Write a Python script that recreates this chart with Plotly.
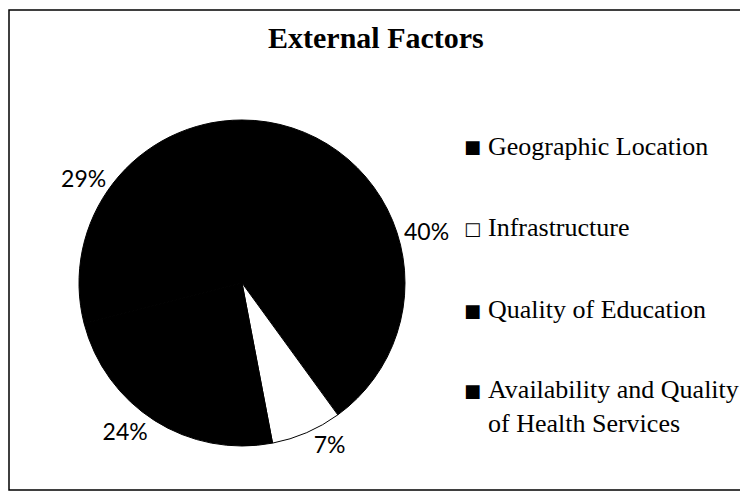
import plotly.graph_objects as go

# ---- data ----
categories = ["Geographic Location", "Infrastructure", "Quality of Education",
              "Availability and Quality of Health Services"]
values = [40, 7, 24, 29]
slice_colors = ["#000000", "#ffffff", "#000000", "#000000"]
legend_text = ["Geographic Location", "Infrastructure", "Quality of Education",
               "Availability and Quality<br>of Health Services"]
title_text = "External Factors"

# the html page body has an 8px margin; lay out in page pixels and shift
OFF = 8
W, H = 748 - OFF, 500 - OFF


def px_x(x):
    return (x - OFF) / W


def px_y(y):
    return 1 - (y - OFF) / H


fig = go.Figure()
fig.add_trace(go.Pie(
    labels=categories,
    values=values,
    sort=False,
    direction="clockwise",
    rotation=0,
    marker=dict(colors=slice_colors, line=dict(color="#000000", width=1)),
    textinfo="percent",
    texttemplate="%{percent:.0%}",
    textposition="outside",
    outsidetextfont=dict(family="Lato", size=23, color="#000000"),
    domain=dict(x=[px_x(79), px_x(405)], y=[px_y(446), px_y(120)]),
    showlegend=False,
    hoverinfo="label+percent",
))

# legend drawn as annotations (native legend cannot reproduce the wide spacing)
legend_y_px = [147, 228, 310, 390]
annotations = []
for name, col, ypx in zip(legend_text, slice_colors, legend_y_px):
    sym = "□" if col.lower() == "#ffffff" else "■"
    annotations.append(dict(
        x=px_x(472), y=px_y(ypx), xref="paper", yref="paper",
        text=sym, showarrow=False, xanchor="center", yanchor="middle",
        font=dict(family="DejaVu Sans", size=18, color="#000000"),
    ))
    annotations.append(dict(
        x=px_x(486), y=px_y(ypx - 17), xref="paper", yref="paper",
        text=name, showarrow=False, xanchor="left", yanchor="top", align="left",
        font=dict(family="Liberation Serif", size=26, color="#000000"),
    ))

annotations.append(dict(
    x=px_x(376), y=px_y(37), xref="paper", yref="paper",
    text="<b>" + title_text + "</b>", showarrow=False,
    xanchor="center", yanchor="middle",
    font=dict(family="Liberation Serif", size=30, color="#000000"),
))

fig.update_layout(
    width=W, height=H,
    margin=dict(l=0, r=0, t=0, b=0),
    paper_bgcolor="#ffffff",
    plot_bgcolor="#ffffff",
    annotations=annotations,
    shapes=[dict(type="rect", xref="paper", yref="paper",
                 x0=px_x(9), x1=px_x(745), y0=px_y(490), y1=px_y(10),
                 line=dict(color="#000000", width=1.5))],
)

fig.write_html("out.html")
